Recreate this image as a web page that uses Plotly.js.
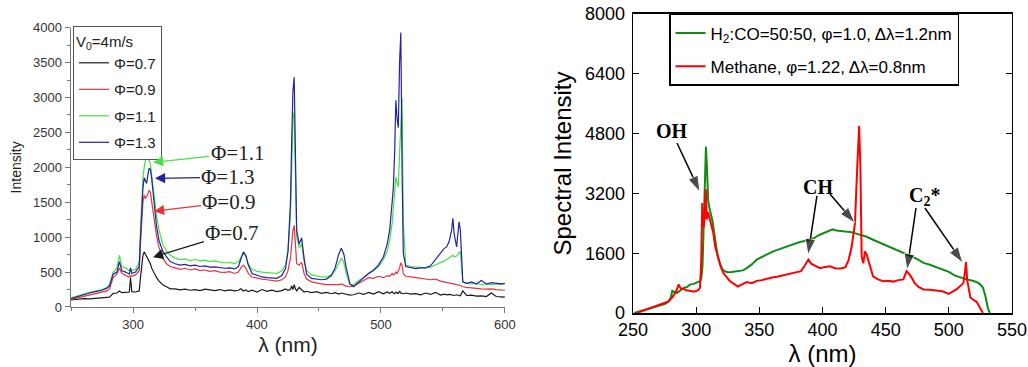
<!DOCTYPE html>
<html><head><meta charset="utf-8">
<script src="https://cdn.plot.ly/plotly-3.0.1.min.js"></script>
<style>html,body{margin:0;padding:0;background:#fff}#chart{width:1028px;height:367px}</style>
</head><body><div id="chart"></div>
<script>
// ---------- Left panel: V0 = 4 m/s spectra ----------
const leftWavelength = [250,255,260,265,270,275,279,281,284,287,289,291,294,297,298,299,302,305,306,307,308,309,310,311,312,313,314,315,317,319,321,324,327,330,334,338,342,346,350,354,358,362,366,370,374,378,382,385,387,389,391,393,396,400,404,408,412,416,420,423,425,427,428,429,430,431,432,434,436,438,440,444,448,452,456,460,463,466,468,470,472,475,478,482,486,490,494,498,502,505,507,509,510,511,512,513,514,515,516,517,518,520,524,528,532,536,540,544,548,551,553,555,557,558,559,561,563,564,566,569,573,577,581,585,589,593,597,600];
const phi07 = [100,110,120,115,125,130,135,140,195,200,230,205,210,215,420,220,215,230,420,620,740,790,760,720,700,650,620,560,480,420,370,320,290,260,260,245,255,240,250,235,255,240,235,250,230,245,230,240,260,230,245,220,240,215,250,225,240,220,235,260,240,250,300,250,320,260,230,280,240,215,225,205,220,195,210,190,205,185,200,190,180,170,175,200,180,210,185,220,190,215,195,220,200,190,210,200,195,230,200,195,190,200,185,190,175,200,180,210,170,185,175,180,170,175,165,175,170,160,230,165,170,155,160,150,200,150,145,140];
const phi09 = [110,130,150,170,190,210,230,260,420,470,560,480,460,430,450,440,460,520,900,1250,1500,1600,1560,1580,1630,1670,1640,1500,1250,1020,850,700,620,580,560,540,555,530,545,520,530,510,520,500,495,505,480,500,560,600,560,480,430,410,400,390,380,370,390,430,520,700,900,1100,1170,900,620,600,640,480,400,360,340,330,320,320,310,320,330,310,300,290,300,340,380,420,410,440,420,450,440,480,460,470,500,480,520,560,630,600,480,440,430,420,410,400,390,400,370,360,350,345,340,335,330,320,315,305,290,280,270,270,260,255,260,250,245,240];
const phi11 = [130,160,190,210,230,250,280,320,500,560,740,580,560,520,540,520,540,640,1100,1500,1850,2000,2100,2130,2120,2100,2050,1900,1600,1300,1100,900,800,740,700,680,690,665,680,660,670,650,660,640,630,640,620,650,720,770,720,610,540,510,500,490,480,480,520,600,800,1300,2000,2700,2800,2000,1000,850,900,650,520,460,440,430,430,460,520,640,700,640,480,320,320,380,420,480,520,580,680,800,950,1200,1430,1650,1860,1780,1720,2200,2700,2990,1200,600,580,570,560,560,570,600,640,660,680,700,720,740,720,730,780,790,360,340,330,340,320,330,320,330,320,330];
const phi13 = [120,150,180,200,220,240,270,300,470,500,650,520,500,470,560,480,500,580,1000,1400,1700,1850,1800,1770,1900,1990,1970,1850,1500,1150,950,800,720,650,620,600,610,590,600,580,590,570,575,560,555,560,545,580,700,790,740,600,480,450,430,420,410,410,450,550,800,1500,2400,3100,3290,2300,1100,900,990,700,470,410,400,390,400,450,560,760,840,760,560,330,290,360,420,480,530,600,720,900,1100,1500,1715,2200,2960,2700,2570,3500,3930,2000,770,580,560,550,560,560,590,680,770,840,860,940,1100,1270,1050,860,1220,1100,360,340,360,330,380,330,350,340,330,340];
const leftNames = ['Φ=0.7','Φ=0.9','Φ=1.1','Φ=1.3'];
const leftColors = ['#1a1a1a','#e5333f','#44e044','#23239e'];
const leftLabelX = [379.8,377.4,383.9,376.6];
const leftLabelY = [1057,1500,2200,1858];
const leftArrowX = [316.1,316.9,316.1,317.7];
const leftArrowY = [714,1372,2072,1843];

// ---------- Right panel: flame spectra ----------
const syngasWavelength = [251,255,260,265,270,275,278,280,281,283,285,288,290,293,295,298,300,302,303,304,305,306,307,307.7,308.5,309.5,310.5,312,313,315,317,319,321,323,325,328,331,334,337,340,344,348,352,356,361,366,370,374,378,382,385,389,393,397,401,405,408,411,414,418,422,426,430,435,440,445,450,455,460,465,470,475,480,485,490,495,500,505,510,514,518,522,525,527,529,531,532.5];
const syngasIntensity = [0,40,90,140,190,240,300,420,590,560,540,620,670,700,760,780,800,830,850,920,1250,2400,4000,4450,3900,3000,2800,2600,2450,1960,1520,1300,1160,1110,1090,1100,1115,1110,1140,1200,1300,1430,1500,1580,1650,1710,1760,1790,1840,1900,1920,1970,2000,2080,2140,2200,2240,2210,2190,2180,2170,2130,2100,2040,1960,1890,1820,1740,1670,1600,1520,1440,1340,1290,1220,1150,1100,1000,940,900,870,830,760,680,450,120,0];
const methaneWavelength = [253,258,263,268,273,278,281,284,286,288,290,293,296,298,300,302,303,304,304.8,305.8,306.8,307.6,308.3,309.3,310.5,312,313.5,315,317.5,319.5,321.5,324,326.8,330,333,336,340,344,348,352,356,360,364,368,372,376,380,383,386,388.8,391,394,398,402,406,410,414,418,420.5,423,425.7,427.5,429,430,431,432.3,433.6,435,436.5,438,440,444,448,452,456,460,464,466.6,469,471,473,476,480,485,490,495,500,503,506,509,511.5,512.8,513.6,514.5,515.5,517,519,522,524,525.5,527];
const methaneIntensity = [0,60,130,190,240,310,420,560,760,650,640,600,590,570,590,620,680,1400,2940,2300,2600,3320,2500,2700,2550,2380,2150,1780,1430,1230,1070,950,850,780,710,760,830,800,860,880,920,950,970,1000,1050,1060,1090,1120,1270,1430,1320,1260,1200,1230,1250,1200,1190,1220,1400,1750,2400,3900,5000,3900,1500,1330,1650,1560,1400,1200,980,900,850,860,840,880,900,1120,1030,920,800,700,630,620,600,580,510,560,630,720,800,1100,1360,900,680,420,360,300,180,80,0];
const speciesLabels = ['OH','CH','C<sub>2</sub>*'];
const speciesLabelX = [280.9,396.4,481.1];
const speciesLabelY = [4870,3372,3104];
// one arrow per entry: tail (near label) -> head (on spectrum)
const arrowTailX = [284.8, 395.6, 405.9, 474.0, 481.1];
const arrowTailY = [4549, 3131, 3184, 2810, 2810];
const arrowHeadX = [303.0, 388.5, 425.7, 466.9, 511.2];
const arrowHeadY = [3238, 1552, 2408, 1151, 1338];

const sans = 'Liberation Sans, Arial, sans-serif';
const serif = 'Liberation Serif, Times New Roman, serif';

const traces = [];
const series = [phi07, phi09, phi11, phi13];
series.forEach((s, i) => traces.push({
  x: leftWavelength, y: s, type: 'scatter', mode: 'lines', name: leftNames[i],
  line: {color: leftColors[i], width: 1.2}, xaxis: 'x', yaxis: 'y', legend: 'legend', legendgroup: 'l' + i
}));
traces.push({x: syngasWavelength, y: syngasIntensity, type: 'scatter', mode: 'lines',
  name: 'H<sub>2</sub>:CO=50:50, φ=1.0, Δλ=1.2nm', line: {color: '#138a13', width: 2},
  xaxis: 'x2', yaxis: 'y2', legend: 'legend2', legendgroup: 'r0'});
traces.push({x: methaneWavelength, y: methaneIntensity, type: 'scatter', mode: 'lines',
  name: 'Methane, φ=1.22, Δλ=0.8nm', line: {color: '#ff0000', width: 2},
  xaxis: 'x2', yaxis: 'y2', legend: 'legend2', legendgroup: 'r1'});
arrowTailX.forEach((tx, i) => traces.push({
  x: [tx, arrowHeadX[i]], y: [arrowTailY[i], arrowHeadY[i]], type: 'scatter', mode: 'lines+markers',
  xaxis: 'x2', yaxis: 'y2', showlegend: false, hoverinfo: 'skip', cliponaxis: false,
  line: {color: '#000', width: 1.5},
  marker: {symbol: ['circle', 'arrow'], size: [0, 17], color: '#000', angleref: 'previous'}
}));

const annotations = [];
leftNames.forEach((n, i) => annotations.push({
  x: leftArrowX[i], y: leftArrowY[i], xref: 'x', yref: 'y',
  ax: leftLabelX[i], ay: leftLabelY[i], axref: 'x', ayref: 'y',
  text: n, showarrow: true, arrowhead: 2, arrowsize: 1.7, arrowwidth: 1.2,
  arrowcolor: leftColors[i], font: {family: serif, size: 21, color: '#222'}
}));
speciesLabels.forEach((t, i) => annotations.push({
  x: speciesLabelX[i], y: speciesLabelY[i], xref: 'x2', yref: 'y2',
  text: '<b>' + t + '</b>', showarrow: false, font: {family: serif, size: 20, color: '#000'}
}));

const layout = {
  width: 1028, height: 367, margin: {l: 0, r: 0, t: 0, b: 0},
  paper_bgcolor: '#fff', plot_bgcolor: '#fff', font: {family: sans, color: '#222'},
  xaxis: {domain: [0.0691, 0.4912], range: [250, 600], anchor: 'y',
    tickvals: [300, 400, 500, 600], ticks: 'outside', ticklen: 5, tickcolor: '#777',
    minor: {dtick: 50, tick0: 250, ticks: 'outside', ticklen: 3, tickcolor: '#777'},
    showline: true, linecolor: '#777', linewidth: 1.5, showgrid: false, zeroline: false,
    tickfont: {size: 13, color: '#333'},
    title: {text: 'λ (nm)', font: {size: 21, color: '#222'}, standoff: 6}},
  yaxis: {domain: [0.1635, 0.9245], range: [0, 4000], anchor: 'x', dtick: 500,
    ticks: 'outside', ticklen: 5, tickcolor: '#777',
    minor: {dtick: 250, ticks: 'outside', ticklen: 3, tickcolor: '#777'},
    showline: true, linecolor: '#777', linewidth: 1.5, showgrid: false, zeroline: false,
    tickfont: {size: 13, color: '#333'},
    title: {text: 'Intensity', font: {size: 14, color: '#222'}, standoff: 8}},
  xaxis2: {domain: [0.6158, 0.9844], range: [250, 550], anchor: 'y2', dtick: 50,
    ticks: 'inside', ticklen: 6, tickcolor: '#000', mirror: 'ticks',
    showline: true, linecolor: '#000', linewidth: 1.5, showgrid: false, zeroline: false,
    tickfont: {size: 18, color: '#000'},
    title: {text: 'λ (nm)', font: {size: 24, color: '#000'}, standoff: 0}},
  yaxis2: {domain: [0.1471, 0.9619], range: [0, 8000], anchor: 'x2', dtick: 1600,
    ticks: 'inside', ticklen: 6, tickcolor: '#000', mirror: 'ticks', ticklabelstandoff: 3,
    showline: true, linecolor: '#000', linewidth: 1.5, showgrid: false, zeroline: false,
    tickfont: {size: 18, color: '#000'},
    title: {text: 'Spectral Intensity', font: {size: 24, color: '#000'}, standoff: 6}},
  legend: {x: 0.071, y: 0.929, xanchor: 'left', yanchor: 'top', bgcolor: '#fff',
    bordercolor: '#555', borderwidth: 1, font: {size: 15, color: '#222'},
    title: {text: 'V<sub>0</sub>=4m/s', font: {size: 15, color: '#222'}},
    traceorder: 'grouped', tracegroupgap: 4},
  legend2: {x: 0.6508, y: 0.9619, xanchor: 'left', yanchor: 'top', bgcolor: '#fff',
    bordercolor: '#000', borderwidth: 1.5, font: {size: 17, color: '#000'},
    traceorder: 'grouped', tracegroupgap: 8},
  annotations: annotations
};
Plotly.newPlot('chart', traces, layout, {displayModeBar: false, staticPlot: true});
</script></body></html>
